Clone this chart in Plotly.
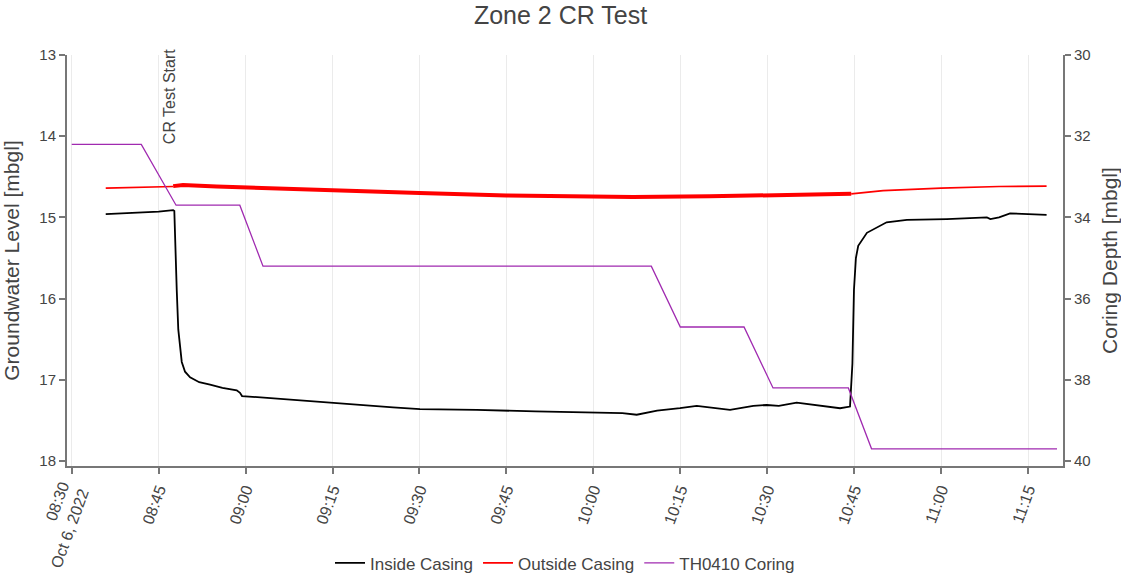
import plotly.graph_objects as go

# ---- Inside casing water level (left axis, mbgl) ----
inside_time = [
    "2022-10-06 08:35:52", "2022-10-06 08:39:00", "2022-10-06 08:41:48", "2022-10-06 08:45:00",
    "2022-10-06 08:47:30", "2022-10-06 08:47:42", "2022-10-06 08:48:07", "2022-10-06 08:48:23",
    "2022-10-06 08:48:59", "2022-10-06 08:49:33", "2022-10-06 08:50:25", "2022-10-06 08:52:00",
    "2022-10-06 08:53:52", "2022-10-06 08:56:00", "2022-10-06 08:58:28", "2022-10-06 08:59:02",
    "2022-10-06 08:59:23", "2022-10-06 09:03:00", "2022-10-06 09:08:11", "2022-10-06 09:15:05",
    "2022-10-06 09:20:00", "2022-10-06 09:25:26", "2022-10-06 09:30:05", "2022-10-06 09:39:53",
    "2022-10-06 09:50:00", "2022-10-06 10:01:10", "2022-10-06 10:05:00", "2022-10-06 10:07:29",
    "2022-10-06 10:11:00", "2022-10-06 10:14:57", "2022-10-06 10:17:50", "2022-10-06 10:23:35",
    "2022-10-06 10:27:36", "2022-10-06 10:29:55", "2022-10-06 10:32:00", "2022-10-06 10:35:05",
    "2022-10-06 10:39:06", "2022-10-06 10:42:34", "2022-10-06 10:44:17", "2022-10-06 10:44:42",
    "2022-10-06 10:44:58", "2022-10-06 10:45:18", "2022-10-06 10:45:42", "2022-10-06 10:47:12",
    "2022-10-06 10:50:36", "2022-10-06 10:54:06", "2022-10-06 11:01:00", "2022-10-06 11:07:54",
    "2022-10-06 11:08:30", "2022-10-06 11:10:00", "2022-10-06 11:11:54", "2022-10-06 11:15:00",
    "2022-10-06 11:18:12",
]
inside_level = [
    14.96, 14.95, 14.94, 14.93,
    14.91, 14.92, 15.89, 16.38,
    16.78, 16.90, 16.97, 17.03,
    17.06, 17.10, 17.13, 17.16,
    17.20, 17.22, 17.24, 17.28,
    17.31, 17.34, 17.36, 17.37,
    17.39, 17.40, 17.41, 17.43,
    17.38, 17.35, 17.32, 17.37,
    17.32, 17.31, 17.32, 17.28,
    17.32, 17.35, 17.33, 16.80,
    15.89, 15.50, 15.35, 15.19,
    15.06, 15.03, 15.02, 15.00,
    15.02, 15.00, 14.95, 14.96,
    14.97,
]

# ---- Outside casing water level (left axis, mbgl), three logging phases ----
outside_time_pre = ["2022-10-06 08:35:52", "2022-10-06 08:41:00", "2022-10-06 08:47:30"]
outside_level_pre = [14.64, 14.63, 14.62]

outside_time_test = [
    "2022-10-06 08:47:30", "2022-10-06 08:49:12", "2022-10-06 08:55:00", "2022-10-06 09:05:00",
    "2022-10-06 09:14:36", "2022-10-06 09:30:00", "2022-10-06 09:45:00", "2022-10-06 10:00:00",
    "2022-10-06 10:06:48", "2022-10-06 10:20:00", "2022-10-06 10:30:00", "2022-10-06 10:44:30",
]
outside_level_test = [14.615, 14.60, 14.62, 14.645, 14.665, 14.70, 14.73, 14.745,
                      14.75, 14.74, 14.73, 14.71]

outside_time_post = ["2022-10-06 10:44:30", "2022-10-06 10:50:00", "2022-10-06 11:00:00",
                     "2022-10-06 11:10:00", "2022-10-06 11:18:12"]
outside_level_post = [14.71, 14.67, 14.64, 14.62, 14.615]

# ---- TH0410 coring depth (right axis, mbgl) ----
coring_time = [
    "2022-10-06 08:30:00", "2022-10-06 08:42:00", "2022-10-06 08:48:00", "2022-10-06 08:59:00",
    "2022-10-06 09:03:00", "2022-10-06 10:10:00", "2022-10-06 10:15:00", "2022-10-06 10:26:00",
    "2022-10-06 10:31:00", "2022-10-06 10:44:00", "2022-10-06 10:48:00", "2022-10-06 11:20:00",
]
coring_depth = [32.2, 32.2, 33.7, 33.7, 35.2, 35.2, 36.7, 36.7, 38.2, 38.2, 39.7, 39.7]

# ---- Axis settings ----
x_range = ["2022-10-06 08:29:11", "2022-10-06 11:21:02"]
left_ticks = [13, 14, 15, 16, 17, 18]
right_ticks = [30, 32, 34, 36, 38, 40]
test_start = "2022-10-06 08:46:54"

FONT = "Arial, Liberation Sans, sans-serif"
AXIS_GREY = "#777777"
TEXT_GREY = "#444444"

fig = go.Figure()

fig.add_trace(go.Scatter(
    x=inside_time, y=inside_level, mode="lines", name="Inside Casing",
    line=dict(color="black", width=1.8), yaxis="y",
))
fig.add_trace(go.Scatter(
    x=outside_time_pre, y=outside_level_pre, mode="lines", name="Outside Casing",
    legendgroup="outside", line=dict(color="red", width=1.6), yaxis="y",
))
fig.add_trace(go.Scatter(
    x=outside_time_test, y=outside_level_test, mode="lines", name="Outside Casing",
    legendgroup="outside", showlegend=False, line=dict(color="red", width=4), yaxis="y",
))
fig.add_trace(go.Scatter(
    x=outside_time_post, y=outside_level_post, mode="lines", name="Outside Casing",
    legendgroup="outside", showlegend=False, line=dict(color="red", width=1.6), yaxis="y",
))
fig.add_trace(go.Scatter(
    x=coring_time, y=coring_depth, mode="lines", name="TH0410 Coring",
    line=dict(color="#a02ab0", width=1.3), yaxis="y2",
))

fig.add_annotation(
    x=test_start, y=1.0195, xref="x", yref="paper",
    text="CR Test Start", textangle=-90, showarrow=False,
    xanchor="center", yanchor="top",
    font=dict(family=FONT, size=16, color=TEXT_GREY),
)

fig.update_layout(
    width=1121, height=585,
    margin=dict(l=67, r=58, t=55, b=119, autoexpand=False),
    paper_bgcolor="white", plot_bgcolor="white",
    font=dict(family=FONT, size=15, color=TEXT_GREY),
    title=dict(text="Zone 2 CR Test", x=0.5, xanchor="center", y=0.974, yanchor="middle",
               font=dict(family=FONT, size=25, color=TEXT_GREY)),
    showlegend=True,
    legend=dict(orientation="h", x=0.5, xanchor="center", y=-0.193, yanchor="top",
                font=dict(family=FONT, size=17, color=TEXT_GREY)),
    xaxis=dict(
        range=x_range, type="date", automargin=False,
        dtick=15 * 60 * 1000, tick0="2022-10-06 08:30:00",
        tickangle=-70,
        showgrid=True, gridcolor="#ebebeb", gridwidth=1,
        showline=True, linecolor=AXIS_GREY, linewidth=2,
        ticks="outside", ticklen=6, tickcolor=AXIS_GREY, tickwidth=2,
        tickfont=dict(family=FONT, size=16, color=TEXT_GREY),
        zeroline=False,
    ),
    yaxis=dict(
        title=dict(text="Groundwater Level [mbgl]", font=dict(family=FONT, size=21, color=TEXT_GREY)),
        range=[18.0615, 13], tickvals=left_ticks, automargin=False,
        showgrid=False, zeroline=False,
        showline=True, linecolor=AXIS_GREY, linewidth=2,
        ticks="outside", ticklen=6, tickcolor=AXIS_GREY, tickwidth=2,
        tickfont=dict(family=FONT, size=15, color=TEXT_GREY),
    ),
    yaxis2=dict(
        title=dict(text="Coring Depth [mbgl]", font=dict(family=FONT, size=21, color=TEXT_GREY)),
        overlaying="y", side="right", automargin=False,
        range=[40.123, 30], tickvals=right_ticks,
        showgrid=False, zeroline=False,
        showline=True, linecolor=AXIS_GREY, linewidth=2,
        ticks="outside", ticklen=6, tickcolor=AXIS_GREY, tickwidth=2,
        tickfont=dict(family=FONT, size=15, color=TEXT_GREY),
    ),
)

fig.write_html("out.html")
